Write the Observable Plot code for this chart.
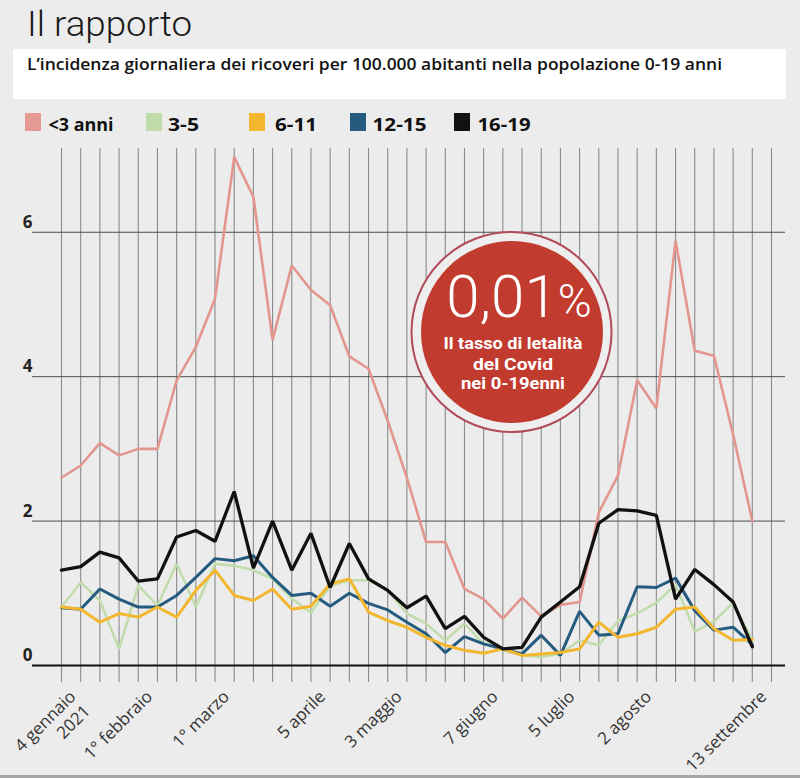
<!DOCTYPE html>
<html><head><meta charset="utf-8">
<script src="https://cdn.jsdelivr.net/npm/d3@7"></script>
<script src="https://cdn.jsdelivr.net/npm/@observablehq/plot@0.6"></script>
<style>
body{margin:0;background:#ececec;}
#wrap{position:relative;width:800px;height:778px;overflow:hidden;background:#ececec;font-family:"Open Sans",sans-serif;}
#chart{position:absolute;left:0;top:140px;}
#over{position:absolute;left:0;top:0;pointer-events:none;}
</style></head>
<body><div id="wrap"><div id="chart"></div></div>
<script>
// --- data (weekly, from 4 Jan 2021 to 13 Sep 2021) ---
const seriesNames = ["<3 anni", "3-5", "6-11", "12-15", "16-19"];
const seriesColors = ["#e3968e", "#c2ddad", "#f3b72f", "#265b80", "#111111"];
const lt3   = [2.60,2.77,3.08,2.91,3.00,3.00,3.95,4.41,5.08,7.04,6.49,4.51,5.54,5.20,4.99,4.28,4.11,3.39,2.60,1.71,1.71,1.06,0.92,0.65,0.94,0.68,0.84,0.88,2.12,2.63,3.95,3.56,5.88,4.36,4.29,3.20,2.00];
const a3_5  = [0.81,1.15,0.90,0.23,1.11,0.83,1.41,0.81,1.41,1.38,1.32,1.20,0.93,0.73,1.10,1.18,1.18,1.04,0.72,0.58,0.35,0.58,0.30,0.21,0.14,0.12,0.16,0.35,0.28,0.62,0.72,0.87,1.12,0.47,0.61,0.87,0.35];
const a6_11 = [0.81,0.78,0.60,0.72,0.67,0.81,0.67,1.04,1.32,0.97,0.90,1.06,0.78,0.82,1.13,1.20,0.74,0.62,0.53,0.39,0.28,0.21,0.17,0.23,0.14,0.16,0.18,0.23,0.60,0.39,0.44,0.53,0.78,0.81,0.51,0.35,0.36];
const a12_15= [0.80,0.78,1.06,0.92,0.81,0.81,0.97,1.22,1.48,1.45,1.52,1.22,0.97,1.00,0.82,1.00,0.86,0.77,0.60,0.44,0.18,0.40,0.30,0.23,0.16,0.42,0.14,0.75,0.42,0.44,1.09,1.08,1.21,0.76,0.49,0.53,0.29];
const a16_19= [1.32,1.37,1.57,1.49,1.17,1.20,1.78,1.87,1.72,2.41,1.35,2.00,1.32,1.83,1.08,1.69,1.20,1.04,0.80,0.96,0.51,0.68,0.39,0.23,0.25,0.67,0.88,1.09,1.97,2.16,2.14,2.08,0.92,1.33,1.12,0.88,0.26];
const yTicks = [0, 2, 4, 6];
const xLabelDates = ["2021-01-04","2021-02-01","2021-03-01","2021-04-05","2021-05-03","2021-06-07","2021-07-05","2021-08-02","2021-09-13"];
const xLabelTexts = ["4 gennaio\n2021","1° febbraio","1° marzo","5 aprile","3 maggio","7 giugno","5 luglio","2 agosto","13 settembre"];

const weeks = d3.utcMonday.range(new Date(Date.UTC(2021,0,4)), new Date(Date.UTC(2021,8,21)));
const dates = weeks.slice(0, lt3.length);
const allSeries = [lt3, a3_5, a6_11, a12_15, a16_19];
const drawOrder = [0, 1, 3, 2, 4];
const widths = [2.6, 2.6, 3, 3, 3.3];
const xLabels = xLabelDates.map((d, i) => ({date: new Date(d + "T00:00:00Z"), label: xLabelTexts[i]}));

const lineMarks = drawOrder.map(k => Plot.line(allSeries[k].map((v, i) => ({date: dates[i], value: v})),
  {x: "date", y: "value", stroke: seriesColors[k], strokeWidth: widths[k], strokeLinejoin: "miter", curve: "linear"}));

const chart = Plot.plot({
  width: 800, height: 638,
  marginLeft: 61, marginRight: 29, marginTop: 8, marginBottom: 113,
  style: {background: "transparent", fontFamily: "Open Sans, sans-serif", color: "#222"},
  x: {type: "utc", domain: [weeks[0], weeks[weeks.length - 1]], axis: null},
  y: {domain: [0, 7.16], axis: null},
  marks: [
    Plot.ruleX(weeks, {stroke: "#8a8a8a", strokeWidth: 1.1, insetBottom: -17}),
    Plot.ruleY(yTicks.filter(t => t > 0), {stroke: "#4d4d4d", strokeWidth: 1, insetLeft: -29, insetRight: -14}),
    Plot.ruleY([0], {stroke: "#111", strokeWidth: 2.2, insetLeft: -29, insetRight: -14}),
    ...lineMarks,
    Plot.axisY({ticks: yTicks, tickSize: 0, tickPadding: 29, dy: -10, fontSize: 17, fontWeight: 700, fill: "#222", label: null}),
    Plot.text(xLabels, {x: "date", text: "label", frameAnchor: "bottom", rotate: -45, textAnchor: "end", lineAnchor: "top", dx: 5, dy: 22, fontSize: 17, lineHeight: 1.2, fill: "#333"})
  ]
});
document.getElementById("chart").appendChild(chart);

// --- header, legend and annotation overlay ---
const NS = "http://www.w3.org/2000/svg";
const over = document.createElementNS(NS, "svg");
over.setAttribute("id", "over"); over.setAttribute("width", 800); over.setAttribute("height", 778);
function el(tag, attrs, text) {
  const e = document.createElementNS(NS, tag);
  for (const k in attrs) e.setAttribute(k, attrs[k]);
  if (text != null) e.textContent = text;
  over.appendChild(e); return e;
}
el("rect", {x: 13, y: 49, width: 773, height: 50, fill: "#ffffff"});
el("text", {x: 27, y: 35.5, "font-size": 35, "font-weight": 300, fill: "#1a1a1a", textLength: 165, lengthAdjust: "spacingAndGlyphs", "font-family": "Roboto"}, "Il rapporto");
el("text", {x: 27, y: 69.5, "font-size": 15.5, "font-weight": 600, fill: "#111", textLength: 695, lengthAdjust: "spacingAndGlyphs", "font-family": "Open Sans"}, "L’incidenza giornaliera dei ricoveri per 100.000 abitanti nella popolazione 0-19 anni");
const legX = [25, 146, 249, 350, 454];
const legTX = [48.5, 168, 275, 372.5, 477.5];
const legTW = [65, 31, 42, 54, 53];
seriesNames.forEach((n, i) => {
  el("rect", {x: legX[i], y: 113, width: 16, height: 18, fill: i === 0 ? "#e49a92" : i === 1 ? "#c0dcaa" : seriesColors[i]});
  el("text", {x: legTX[i], y: 130.5, "font-size": 18, "font-weight": 700, fill: "#111", textLength: legTW[i], lengthAdjust: "spacingAndGlyphs", "font-family": "Open Sans"}, n);
});
el("circle", {cx: 511.5, cy: 332, r: 100, fill: "#eeeeee", stroke: "#b04b5a", "stroke-width": 2});
el("circle", {cx: 512, cy: 332, r: 91, fill: "#c23b2f"});
const big = el("text", {x: 519, y: 317, "text-anchor": "middle", "font-size": 60, "font-weight": 300, fill: "#fff", "font-family": "Roboto"}, "0,01");
const pct = document.createElementNS(NS, "tspan"); pct.setAttribute("font-size", 46); pct.textContent = "%"; big.appendChild(pct);
const lines = ["Il tasso di letalità", "del Covid", "nei 0-19enni"];
const lw = [139, 80, 104];
const ly = [349, 369.5, 389];
lines.forEach((t, i) => el("text", {x: 513 - lw[i] / 2, y: ly[i], "font-size": 16.5, "font-weight": 700, fill: "#fff", textLength: lw[i], lengthAdjust: "spacingAndGlyphs", "font-family": "Roboto"}, t));
el("rect", {x: 0, y: 775, width: 800, height: 3, fill: "#a5a5a5"});
document.getElementById("wrap").appendChild(over);
</script></body></html>
